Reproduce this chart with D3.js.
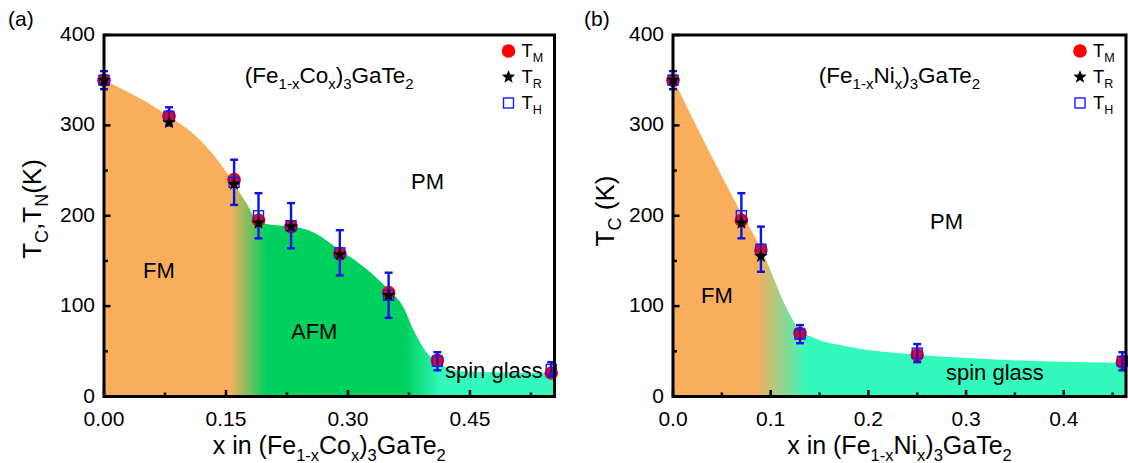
<!DOCTYPE html>
<html>
<head>
<meta charset="utf-8">
<script src="https://cdn.jsdelivr.net/npm/d3@7/dist/d3.min.js"></script>
<style>
  html, body { margin: 0; padding: 0; background: #fff; }
  svg { display: block; font-family: "Liberation Sans", Arial, sans-serif; }
</style>
</head>
<body>
<svg id="chart" width="1128" height="463"></svg>
<script>
// ---------- (a) (Fe1-xCox)3GaTe2 ----------
const coX   = [0, 0.08, 0.16, 0.19, 0.23, 0.29, 0.35, 0.41, 0.55];
const coTM  = [350, 310, 240, 195, 188, 158, 115, 40, 26];
const coTRx = [0, 0.08, 0.16, 0.19, 0.23, 0.29, 0.35];
const coTR  = [350, 303, 235, 192, 188, 157, 112];
const coTH  = [350, 310, 237, 200, 189, 159, 112, 39, 30];
const coErr = [10, 10, 25, 25, 25, 25, 25, 10, 8];
// phase boundary (upper edge of the ordered region)
const coBx  = [0, 0.0785, 0.118, 0.149, 0.162, 0.175, 0.188, 0.206, 0.232, 0.259, 0.29, 0.32, 0.35, 0.368, 0.381, 0.395, 0.412, 0.43, 0.465, 0.555];
const coBy  = [350, 311, 284, 250, 232, 214, 195, 190, 188, 181, 162, 143, 118, 99, 73, 51, 37, 29, 27, 26];
// colour stops along x: FM -> AFM -> spin glass
const coStopX = [0, 0.155, 0.2, 0.37, 0.415, 0.555];
const coStopC = ["#F9AE5B", "#F9AE5B", "#00D15E", "#00D15E", "#33F9BD", "#33F9BD"];
const coXTicks = [0, 0.15, 0.30, 0.45];
const coXMinor = [0.075, 0.225, 0.375, 0.525];

// ---------- (b) (Fe1-xNix)3GaTe2 ----------
const niX   = [0, 0.07, 0.09, 0.13, 0.25, 0.46];
const niTM  = [350, 195, 162, 70, 46, 38];
const niTRx = [0, 0.07, 0.09];
const niTR  = [350, 192, 155];
const niTH  = [350, 200, 163, 69, 48, 39];
const niErr = [10, 25, 25, 10, 10, 10];
const niBx  = [0, 0.07, 0.09, 0.118, 0.129, 0.144, 0.18, 0.255, 0.33, 0.464];
const niBy  = [352, 203, 164, 94, 74, 65, 55, 46, 41, 37];
const niStopX = [0, 0.086, 0.137, 0.464];
const niStopC = ["#F9AE5B", "#F9AE5B", "#33F9BD", "#33F9BD"];
const niXTicks = [0, 0.1, 0.2, 0.3, 0.4];
const niXMinor = [0.05, 0.15, 0.25, 0.35, 0.45];

const yTicks = [0, 100, 200, 300, 400];
const yMinor = [50, 150, 250, 350];

const svg = d3.select("#chart");
const defs = svg.append("defs");

// text with subscripts: parts = [[string, isSub], ...]
function rich(sel, parts, size, subSize, subDy) {
  let shifted = false;
  parts.forEach(([s, sub]) => {
    const t = sel.append("tspan").text(s).attr("font-size", sub ? subSize : size);
    if (sub && !shifted) { t.attr("dy", subDy); shifted = true; }
    else if (!sub && shifted) { t.attr("dy", -subDy); shifted = false; }
  });
  return sel;
}

function starPath(r) {
  const pts = [];
  for (let i = 0; i < 10; i++) {
    const a = -Math.PI / 2 + i * Math.PI / 5;
    const rr = i % 2 === 0 ? r : r * 0.42;
    pts.push([rr * Math.cos(a), rr * Math.sin(a)]);
  }
  return "M" + pts.map(p => p.join(",")).join("L") + "Z";
}

function panel(cfg) {
  const x = d3.scaleLinear().domain([0, cfg.xMax]).range([cfg.left, cfg.right]);
  const y = d3.scaleLinear().domain([0, 400]).range([396.5, 35]);
  const g = svg.append("g");

  // gradient fill of the ordered phases
  const grad = defs.append("linearGradient").attr("id", cfg.id + "-grad")
    .attr("gradientUnits", "userSpaceOnUse")
    .attr("x1", x(0)).attr("x2", x(cfg.xMax)).attr("y1", 0).attr("y2", 0);
  cfg.stopX.forEach((sx, i) => {
    grad.append("stop").attr("offset", sx / cfg.xMax).attr("stop-color", cfg.stopC[i]);
  });
  const area = d3.area().x(d => x(d[0])).y0(y(0)).y1(d => y(d[1])).curve(d3.curveMonotoneX);
  g.append("path").datum(cfg.bx.map((v, i) => [v, cfg.by[i]]))
    .attr("d", area).attr("fill", `url(#${cfg.id}-grad)`);

  // phase labels
  cfg.labels.forEach(([txt, lx, ly]) => {
    g.append("text").attr("x", lx).attr("y", ly).attr("font-size", 22).attr("fill", "#000").text(txt);
  });

  // compound name
  rich(g.append("text").attr("x", (cfg.left + cfg.right) / 2).attr("y", 83)
    .attr("text-anchor", "middle"), cfg.formula, 22.5, 15, 6);

  // T_M circles
  g.selectAll(null).data(cfg.xs).join("circle")
    .attr("cx", d => x(d)).attr("cy", (d, i) => y(cfg.tm[i])).attr("r", 6.8).attr("fill", "#FF0000");
  // T_H error bars and squares
  const eb = g.append("g").attr("stroke", "#0A14E6").attr("stroke-width", 2.4).attr("fill", "none");
  cfg.xs.forEach((xv, i) => {
    const cx = x(xv), top = y(cfg.th[i] + cfg.err[i]), bot = y(cfg.th[i] - cfg.err[i]);
    eb.append("line").attr("x1", cx).attr("x2", cx).attr("y1", top).attr("y2", bot);
    eb.append("line").attr("x1", cx - 4).attr("x2", cx + 4).attr("y1", top).attr("y2", top);
    eb.append("line").attr("x1", cx - 4).attr("x2", cx + 4).attr("y1", bot).attr("y2", bot);
  });
  g.selectAll(null).data(cfg.xs).join("rect")
    .attr("x", d => x(d) - 5).attr("y", (d, i) => y(cfg.th[i]) - 5)
    .attr("width", 10).attr("height", 10)
    .attr("fill", "none").attr("stroke", "#1A1AFF").attr("stroke-width", 1.4);
  // T_R stars
  g.selectAll(null).data(cfg.trx).join("path")
    .attr("d", starPath(7))
    .attr("transform", (d, i) => `translate(${x(d)},${y(cfg.tr[i])})`)
    .attr("fill", "#000");

  // frame
  g.append("rect").attr("x", cfg.left).attr("y", 35)
    .attr("width", cfg.right - cfg.left).attr("height", 396.5 - 35)
    .attr("fill", "none").attr("stroke", "#000").attr("stroke-width", 3);

  // ticks (inward)
  const tk = g.append("g").attr("stroke", "#000").attr("stroke-width", 2.5);
  cfg.xTicks.forEach(v => tk.append("line").attr("x1", x(v)).attr("x2", x(v)).attr("y1", 396.5).attr("y2", 390));
  cfg.xMinor.forEach(v => tk.append("line").attr("x1", x(v)).attr("x2", x(v)).attr("y1", 396.5).attr("y2", 392.5));
  yTicks.forEach(v => tk.append("line").attr("x1", cfg.left).attr("x2", cfg.left + 6.5).attr("y1", y(v)).attr("y2", y(v)));
  yMinor.forEach(v => tk.append("line").attr("x1", cfg.left).attr("x2", cfg.left + 4).attr("y1", y(v)).attr("y2", y(v)));

  // tick labels
  cfg.xTicks.forEach(v => g.append("text").attr("x", x(v)).attr("y", 426)
    .attr("text-anchor", "middle").attr("font-size", 21).text(d3.format(cfg.xFmt)(v)));
  yTicks.forEach(v => g.append("text").attr("x", cfg.left - 9).attr("y", y(v) + 6)
    .attr("text-anchor", "end").attr("font-size", 21).text(v));

  // axis titles
  rich(g.append("text").attr("x", (cfg.left + cfg.right) / 2).attr("y", 454)
    .attr("text-anchor", "middle"), cfg.xTitle, 25, 16.5, 7);
  rich(g.append("text").attr("transform", `translate(${cfg.yTitleX},${cfg.yTitleY}) rotate(-90)`)
    .attr("text-anchor", "middle"), cfg.yTitle, 26, 18, 7);

  // panel tag
  g.append("text").attr("x", cfg.tagX).attr("y", 26).attr("font-size", 21).text(cfg.tag);

  // legend
  const lx = cfg.right - 46;
  const lg = g.append("g");
  lg.append("circle").attr("cx", lx).attr("cy", 51).attr("r", 6.8).attr("fill", "#FF0000");
  lg.append("path").attr("d", starPath(7)).attr("transform", `translate(${lx},77)`).attr("fill", "#000");
  lg.append("rect").attr("x", lx - 5).attr("y", 98).attr("width", 10).attr("height", 10)
    .attr("fill", "none").attr("stroke", "#1A1AFF").attr("stroke-width", 1.4);
  [["M", 57], ["R", 83], ["H", 109]].forEach(([s, ly]) => {
    rich(lg.append("text").attr("x", lx + 13).attr("y", ly), [["T", false], [s, true]], 18.5, 12.5, 5);
  });
}

panel({
  id: "co", left: 104, right: 554.5, xMax: 0.554,
  xs: coX, tm: coTM, trx: coTRx, tr: coTR, th: coTH, err: coErr,
  bx: coBx, by: coBy, stopX: coStopX, stopC: coStopC,
  xTicks: coXTicks, xMinor: coXMinor, xFmt: ".2f",
  labels: [["PM", 411, 189], ["FM", 143, 278], ["AFM", 291, 339], ["spin glass", 445, 378]],
  formula: [["(Fe", false], ["1-x", true], ["Co", false], ["x", true], [")", false], ["3", true], ["GaTe", false], ["2", true]],
  xTitle: [["x in (Fe", false], ["1-x", true], ["Co", false], ["x", true], [")", false], ["3", true], ["GaTe", false], ["2", true]],
  yTitle: [["T", false], ["C", true], [",T", false], ["N", true], ["(K)", false]],
  yTitleX: 41, yTitleY: 209, tag: "(a)", tagX: 8
});

panel({
  id: "ni", left: 673, right: 1126, xMax: 0.4637,
  xs: niX, tm: niTM, trx: niTRx, tr: niTR, th: niTH, err: niErr,
  bx: niBx, by: niBy, stopX: niStopX, stopC: niStopC,
  xTicks: niXTicks, xMinor: niXMinor, xFmt: ".1f",
  labels: [["PM", 930, 229], ["FM", 701, 303], ["spin glass", 946, 380]],
  formula: [["(Fe", false], ["1-x", true], ["Ni", false], ["x", true], [")", false], ["3", true], ["GaTe", false], ["2", true]],
  xTitle: [["x in (Fe", false], ["1-x", true], ["Ni", false], ["x", true], [")", false], ["3", true], ["GaTe", false], ["2", true]],
  yTitle: [["T", false], ["C", true], [" (K)", false]],
  yTitleX: 614, yTitleY: 211, tag: "(b)", tagX: 584
});
</script>
</body>
</html>
